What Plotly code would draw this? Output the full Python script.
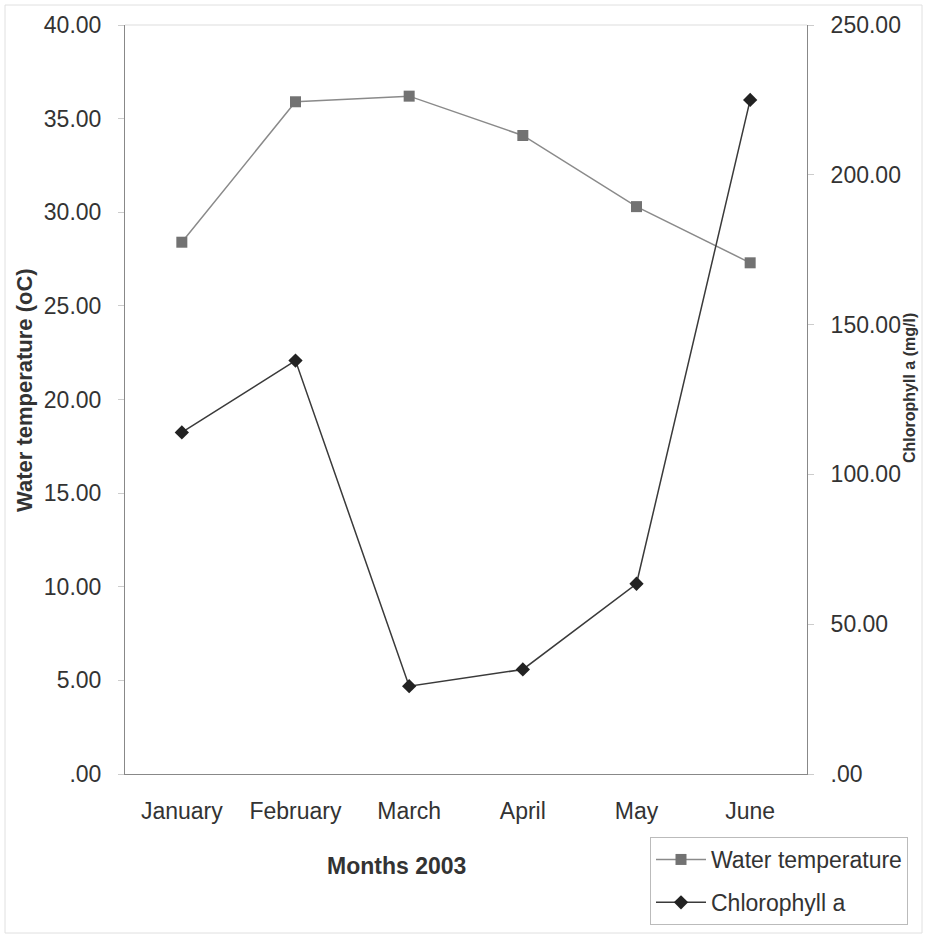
import plotly.graph_objects as go

months = ["January", "February", "March", "April", "May", "June"]
water_temp = [28.4, 35.9, 36.2, 34.1, 30.3, 27.3]
chlorophyll = [114.0, 138.0, 29.3, 34.9, 63.5, 225.0]

left_ticks = [0, 5, 10, 15, 20, 25, 30, 35, 40]
left_labels = [".00", "5.00", "10.00", "15.00", "20.00", "25.00", "30.00", "35.00", "40.00"]
right_ticks = [0, 50, 100, 150, 200, 250]
right_labels = [".00", "50.00", "100.00", "150.00", "200.00", "250.00"]

font = "Liberation Sans, Arial, sans-serif"
W, H = 927, 938
L, R, T, B = 125, 120, 25, 164
pw = W - L - R
ph = H - T - B


def px(x):
    return (x - L) / pw


def py(y):
    return (H - B - y) / ph


fig = go.Figure()
fig.add_trace(go.Scatter(
    x=list(range(len(months))), y=water_temp, name="Water temperature",
    mode="lines+markers", legendgroup="a",
    line=dict(color="#8a8a8a", width=1.5),
    marker=dict(symbol="square", size=11, color="#727272"),
    yaxis="y",
))
fig.add_trace(go.Scatter(
    x=list(range(len(months))), y=chlorophyll, name="Chlorophyll a",
    mode="lines+markers", legendgroup="b",
    line=dict(color="#3a3a3a", width=1.5),
    marker=dict(symbol="diamond", size=11, color="#222222"),
    yaxis="y2",
))

tickfont = dict(size=23, color="#333333", family=font)

fig.update_layout(
    width=W, height=H,
    margin=dict(l=L, r=R, t=T, b=B, autoexpand=False),
    paper_bgcolor="white", plot_bgcolor="white",
    font=dict(family=font, color="#333333", size=22),
    showlegend=True,
    legend=dict(
        x=px(650), y=py(837), xref="paper", yref="paper",
        xanchor="left", yanchor="top",
        bgcolor="white", bordercolor="#bbbbbb", borderwidth=1,
        font=dict(size=23, color="#333333", family=font),
        itemwidth=50, tracegroupgap=10,
    ),
    xaxis=dict(
        range=[-0.5, 5.5], tickvals=list(range(len(months))), ticktext=months,
        showgrid=False, zeroline=False,
        showline=True, linecolor="#888888", linewidth=1,
        ticks="", tickfont=tickfont, ticklabelstandoff=16,
    ),
    yaxis=dict(
        range=[0, 40], tickvals=left_ticks, ticktext=left_labels,
        showgrid=False, zeroline=False,
        showline=True, linecolor="#888888", linewidth=1,
        ticks="outside", ticklen=6, tickcolor="#cccccc",
        tickfont=tickfont, ticklabelstandoff=12,
    ),
    yaxis2=dict(
        range=[0, 250], tickvals=right_ticks, ticktext=right_labels,
        overlaying="y", side="right",
        showgrid=False, zeroline=False,
        showline=True, linecolor="#888888", linewidth=1,
        ticks="outside", ticklen=6, tickcolor="#cccccc",
        tickfont=tickfont, ticklabelstandoff=12,
    ),
    annotations=[
        dict(text="<b>Water temperature (oC)</b>", x=px(25), y=py(390), xref="paper", yref="paper",
             xanchor="center", yanchor="middle",
             showarrow=False, textangle=-90, font=dict(size=22, color="#333333", family=font)),
        dict(text="<b>Chlorophyll a (mg/l)</b>", x=px(909), y=py(388), xref="paper", yref="paper",
             xanchor="center", yanchor="middle",
             showarrow=False, textangle=-90, font=dict(size=16, color="#333333", family=font)),
        dict(text="<b>Months 2003</b>", x=px(396), y=py(866), xref="paper", yref="paper",
             xanchor="center", yanchor="middle",
             showarrow=False, font=dict(size=23, color="#333333", family=font)),
    ],
)

fig.add_shape(type="line", xref="paper", yref="paper", x0=0, x1=1, y0=1, y1=1,
              line=dict(color="#dddddd", width=1))
fig.add_shape(type="rect", xref="paper", yref="paper",
              x0=px(5), x1=px(922), y0=py(933), y1=py(5),
              line=dict(color="#e0e0e0", width=1))

fig.write_html("out.html")
